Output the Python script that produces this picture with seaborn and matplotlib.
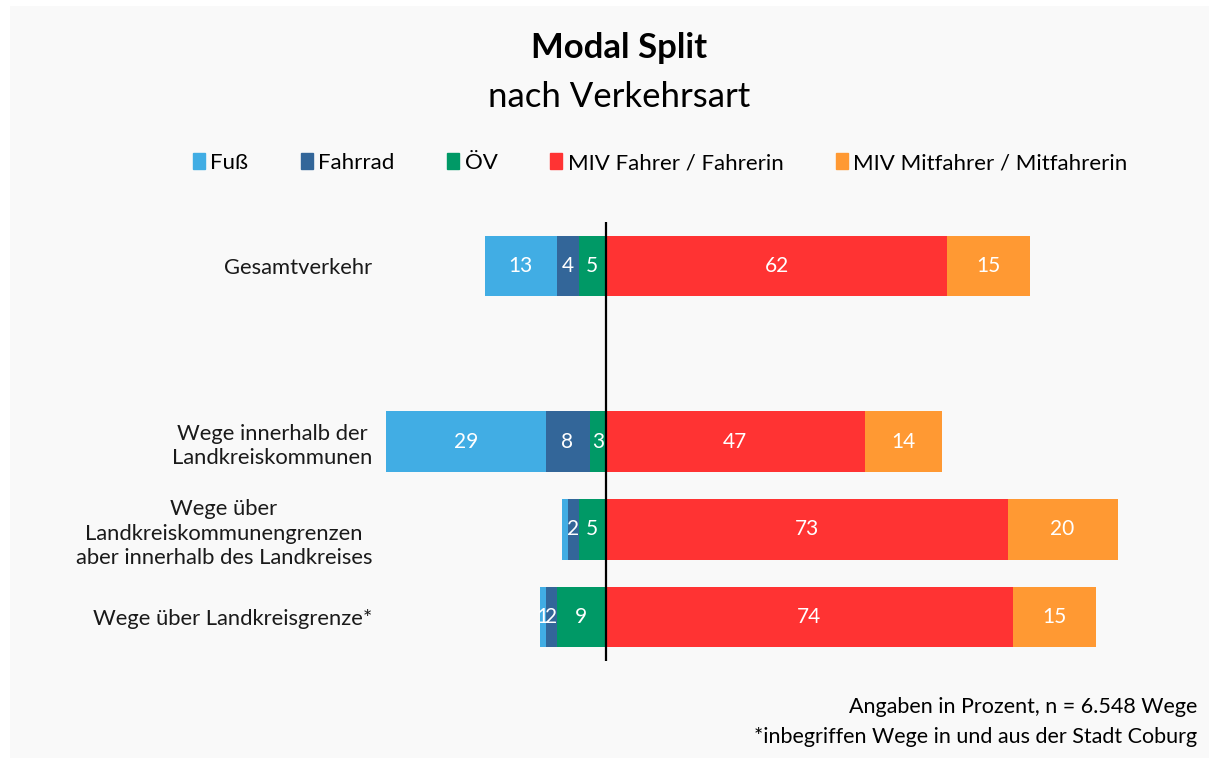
import pandas as pd
import matplotlib.pyplot as plt
import matplotlib.patches as mpatches
import seaborn as sns

# categories (empty slot between first group and the rest)
kategorien = ["Gesamtverkehr", " ",
              "Wege innerhalb der\nLandkreiskommunen",
              "Wege über\nLandkreiskommunengrenzen\naber innerhalb des Landkreises",
              "Wege über Landkreisgrenze*"]
reihen = [k for k in kategorien if k != " "]

fuss = [13, 29, 1, 1]
fahrrad = [4, 8, 2, 2]
oev = [5, 3, 5, 9]
miv_fahrer = [62, 47, 73, 74]
miv_mit = [15, 14, 20, 15]

# labels shown in the bars (one Fuß value has no label)
lab_fuss = ["13", "29", "", "1"]

serien = ["Fuß", "Fahrrad", "ÖV", "MIV Fahrer / Fahrerin", "MIV Mitfahrer / Mitfahrerin"]
farben = ["#41ade4", "#336699", "#009966", "#ff3333", "#ff9933"]

plt.rcParams['font.family'] = ['Lato', 'DejaVu Sans']

data = pd.DataFrame({
    "Kategorie": reihen,
    "Fuß": fuss, "Fahrrad": fahrrad, "ÖV": oev,
    "Fahrer": miv_fahrer, "Mitfahrer": miv_mit,
})
data["Kategorie"] = pd.Categorical(data["Kategorie"], categories=kategorien)

# cumulative extents for overlapping bars
data["l3"] = -(data["ÖV"] + data["Fahrrad"] + data["Fuß"])
data["l2"] = -(data["ÖV"] + data["Fahrrad"])
data["l1"] = -data["ÖV"]
data["r2"] = data["Fahrer"] + data["Mitfahrer"]
data["r1"] = data["Fahrer"]

fig = plt.figure(figsize=(12.09, 7.58), dpi=100, facecolor="white")
fig.patches.append(mpatches.Rectangle((10 / 1209, 0), 1, 1 - 6 / 758,
                                      transform=fig.transFigure,
                                      facecolor="#f9f9f9", edgecolor="none", zorder=-10))

ax = fig.add_axes([386 / 1209, 1 - 661 / 758, 770 / 1209, 439 / 758])
ax.set_facecolor("none")

h = 0.69
for col, c in [("l3", farben[0]), ("l2", farben[1]), ("l1", farben[2]),
               ("r2", farben[4]), ("r1", farben[3])]:
    sns.barplot(data=data, y="Kategorie", x=col, color=c, orient="h",
                order=kategorien, width=h, saturation=1, ax=ax, linewidth=0)

# value labels
for i, k in enumerate(reihen):
    y = kategorien.index(k)
    segs = [
        (data["l3"][i], data["l2"][i], lab_fuss[i]),
        (data["l2"][i], data["l1"][i], str(fahrrad[i])),
        (data["l1"][i], 0, str(oev[i])),
        (0, data["r1"][i], str(miv_fahrer[i])),
        (data["r1"][i], data["r2"][i], str(miv_mit[i])),
    ]
    for a, b, t in segs:
        ax.text((a + b) / 2, y, t, ha="center", va="center", color="white", fontsize=15)

ax.axvline(0, color="black", linewidth=1.6)
ax.set_xlim(-40, 100)
ax.set_ylim(4.5, -0.5)
ax.set_xticks([])
ax.set_xlabel("")
ax.set_ylabel("")
for s in ax.spines.values():
    s.set_visible(False)
ax.tick_params(axis="y", length=0, pad=10, labelsize=15.8)
for t in ax.get_yticklabels():
    t.set_multialignment("center")
    t.set_linespacing(1.3)
    t.set_color("#1a1a1a")

handles = [mpatches.Patch(color=c, label=s) for c, s in zip(farben, serien)]
fig.legend(handles=handles, ncol=5, loc="center", bbox_to_anchor=(0.546, 1 - 163 / 758),
           frameon=False, fontsize=16, handlelength=0.55, handleheight=0.75,
           handletextpad=0.25, columnspacing=2.35)

fig.text(0.512, 1 - 48 / 758, "Modal Split", ha="center", va="center",
         fontsize=25, fontweight="bold")
fig.text(0.512, 1 - 97 / 758, "nach Verkehrsart", ha="center", va="center", fontsize=25)
fig.text(1197 / 1209, 1 - 707 / 758, "Angaben in Prozent, n = 6.548 Wege",
         ha="right", va="center", fontsize=15.5)
fig.text(1197 / 1209, 1 - 737 / 758, "*inbegriffen Wege in und aus der Stadt Coburg",
         ha="right", va="center", fontsize=15.5)

fig.savefig("out.png", dpi=100, facecolor=fig.get_facecolor())
